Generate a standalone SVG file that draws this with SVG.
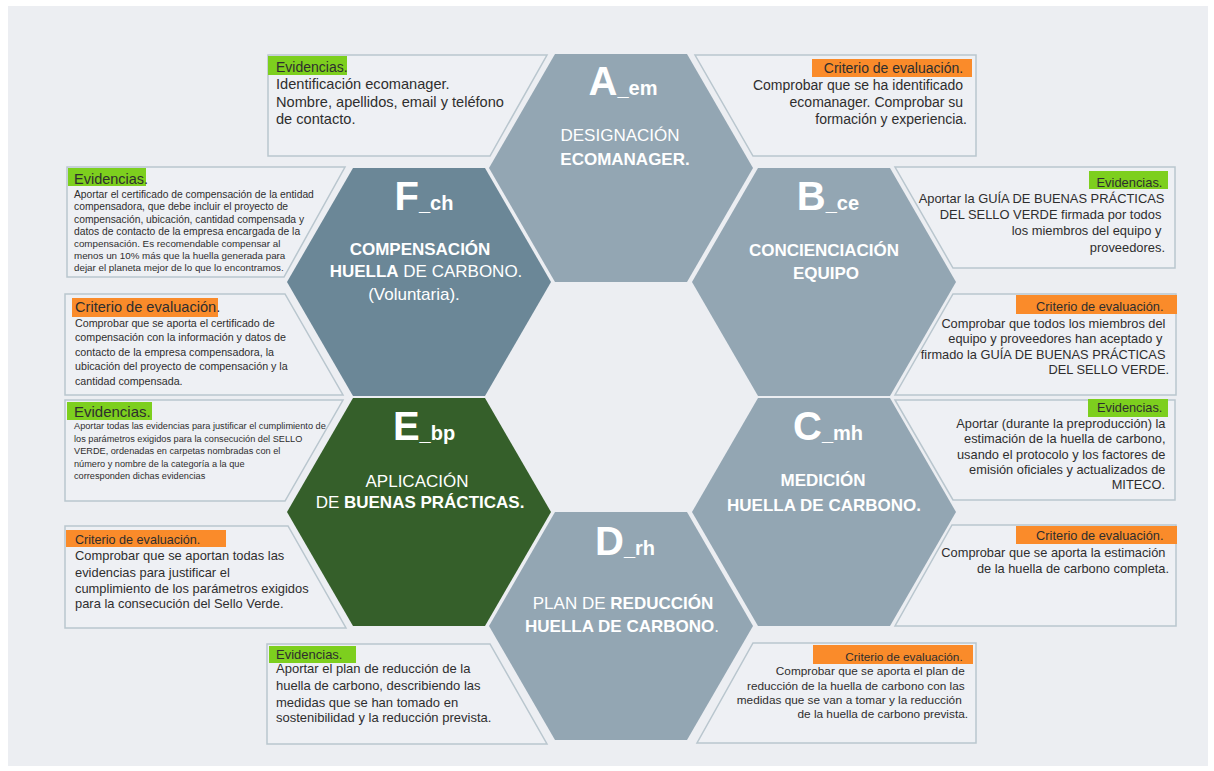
<svg xmlns="http://www.w3.org/2000/svg" width="1214" height="771" viewBox="0 0 1214 771">
  <defs>
    <style>
      .panel { fill: #eceef2; }
      .box { fill: #eef0f4; stroke: #b9c6ce; stroke-width: 1.5; }
      .hex-light { fill: #93a6b3; }
      .hex-dark { fill: #6b8797; }
      .hex-green { fill: #355f2a; }
      .hl-green { fill: #7dcf1e; }
      .hl-orange { fill: #fa8b2a; }
      text { font-family: "Liberation Sans", Arial, Helvetica, sans-serif; }
      .t { fill: #2e2e2e; }
      .r { text-anchor: end; }
      .h { fill: #ffffff; text-anchor: middle; font-size: 17px; }
      .b { font-weight: bold; }
      .big { font-size: 40px; font-weight: bold; }
      .sub { font-size: 20px; font-weight: bold; }
    </style>
    <!-- hexagon with points left and right, circumradius 132 -->
    <polygon id="hex" points="-132,0 -66,-114 66,-114 132,0 66,114 -66,114"/>
  </defs>

  <rect x="0" y="0" width="1214" height="771" fill="#ffffff"/>
  <rect class="panel" x="8" y="6" width="1200" height="760"/>

  <!-- connectors: none in this layout -->
  <g id="connectors"/>

  <!-- A: designación ecomanager -->
  <g id="node-A">
    <use href="#hex" class="hex-light" x="621" y="168"/>
    <text class="h" x="623" y="95"><tspan class="big">A</tspan><tspan class="sub">_em</tspan></text>
    <text class="h" x="620" y="141" font-size="19.5">DESIGNACIÓN</text>
    <text class="h b" x="625" y="165" font-size="18">ECOMANAGER.</text>
  </g>

  <!-- B: concienciación equipo -->
  <g id="node-B">
    <use href="#hex" class="hex-light" x="824" y="282"/>
    <text class="h" x="828" y="210"><tspan class="big">B</tspan><tspan class="sub">_ce</tspan></text>
    <text class="h b" x="824" y="256" font-size="19">CONCIENCIACIÓN</text>
    <text class="h b" x="826" y="279" font-size="19">EQUIPO</text>
  </g>

  <!-- C: medición huella de carbono -->
  <g id="node-C">
    <use href="#hex" class="hex-light" x="824" y="512"/>
    <text class="h" x="828" y="440"><tspan class="big">C</tspan><tspan class="sub">_mh</tspan></text>
    <text class="h b" x="823" y="486" font-size="19.5">MEDICIÓN</text>
    <text class="h b" x="824" y="511" font-size="19.5">HUELLA DE CARBONO.</text>
  </g>

  <!-- D: plan de reducción -->
  <g id="node-D">
    <use href="#hex" class="hex-light" x="621" y="626"/>
    <text class="h" x="625" y="555"><tspan class="big">D</tspan><tspan class="sub">_rh</tspan></text>
    <text class="h" x="623" y="609">PLAN DE <tspan class="b">REDUCCIÓN</tspan></text>
    <text class="h" x="622" y="632"><tspan class="b">HUELLA DE CARBONO</tspan>.</text>
  </g>

  <!-- E: aplicación de buenas prácticas -->
  <g id="node-E">
    <use href="#hex" class="hex-green" x="419" y="512"/>
    <text class="h" x="424" y="440"><tspan class="big">E</tspan><tspan class="sub">_bp</tspan></text>
    <text class="h" x="417" y="487">APLICACIÓN</text>
    <text class="h" x="420" y="508">DE <tspan class="b">BUENAS PRÁCTICAS.</tspan></text>
  </g>

  <!-- F: compensación huella de carbono -->
  <g id="node-F">
    <use href="#hex" class="hex-dark" x="419" y="282"/>
    <text class="h" x="424" y="210"><tspan class="big">F</tspan><tspan class="sub">_ch</tspan></text>
    <text class="h b" x="420" y="255" font-size="18">COMPENSACIÓN</text>
    <text class="h" x="426" y="277"><tspan class="b">HUELLA</tspan> DE CARBONO.</text>
    <text class="h" x="414" y="300" font-size="20">(Voluntaria).</text>
  </g>

  <!-- A evidencias -->
  <g id="box-A-evidencias">
    <polygon class="box" points="268,55 547,55 490,156 268,156"/>
    <rect class="hl-green" x="268" y="56" width="79" height="19"/>
    <text class="t" x="276" y="72" font-size="14">Evidencias.</text>
    <text class="t" font-size="14.6">
      <tspan x="276" y="89">Identificación ecomanager.</tspan>
      <tspan x="276" y="107">Nombre, apellidos, email y teléfono</tspan>
      <tspan x="276" y="124">de contacto.</tspan>
    </text>
  </g>

  <!-- A criterio -->
  <g id="box-A-criterio">
    <polygon class="box" points="695,55 976,55 976,156 753,156"/>
    <rect class="hl-orange" x="812" y="59" width="160" height="18"/>
    <text class="t r" font-size="14">
      <tspan x="967" y="73">Criterio de evaluación.</tspan>
      <tspan x="967" y="90">Comprobar que se ha identificado</tspan>
      <tspan x="967" y="107">ecomanager. Comprobar su</tspan>
      <tspan x="967" y="124">formación y experiencia.</tspan>
    </text>
  </g>

  <!-- F evidencias -->
  <g id="box-F-evidencias">
    <polygon class="box" points="67,167 345,167 284,277 67,277"/>
    <rect class="hl-green" x="68" y="168" width="78" height="18"/>
    <text class="t" x="74" y="184" font-size="14.5">Evidencias.</text>
    <text class="t" font-size="10.3">
      <tspan x="74" y="198">Aportar el certificado de compensación de la entidad</tspan>
      <tspan x="74" y="210">compensadora, que debe incluir el proyecto de</tspan>
      <tspan x="74" y="223">compensación, ubicación, cantidad compensada y</tspan>
      <tspan x="74" y="235">datos de contacto de la empresa encargada de la</tspan>
    </text>
    <text class="t" font-size="9.8">
      <tspan x="74" y="247">compensación. Es recomendable compensar al</tspan>
      <tspan x="74" y="259">menos un 10% más que la huella generada para</tspan>
      <tspan x="74" y="271">dejar el planeta mejor de lo que lo encontramos.</tspan>
    </text>
  </g>

  <!-- B evidencias -->
  <g id="box-B-evidencias">
    <polygon class="box" points="895,167 1175,167 1175,268 953,268"/>
    <rect class="hl-green" x="1089" y="171" width="79" height="18"/>
    <text class="t r" font-size="12.9">
      <tspan x="1166" y="187">Evidencias.</tspan>
      <tspan x="1168" y="203">Aportar la GUÍA DE BUENAS PRÁCTICAS</tspan>
      <tspan x="1165" y="219">DEL SELLO VERDE firmada por todos</tspan>
      <tspan x="1165" y="235">los miembros del equipo y</tspan>
      <tspan x="1165" y="252">proveedores.</tspan>
    </text>
  </g>

  <!-- F criterio -->
  <g id="box-F-criterio">
    <polygon class="box" points="65,294 285,294 343,395 65,395"/>
    <rect class="hl-orange" x="72" y="298" width="146" height="19"/>
    <text class="t" x="75" y="312" font-size="14.6">Criterio de evaluación.</text>
    <text class="t" font-size="10.7">
      <tspan x="75" y="327">Comprobar que se aporta el certificado de</tspan>
      <tspan x="75" y="341">compensación con la información y datos de</tspan>
      <tspan x="75" y="356">contacto de la empresa compensadora, la</tspan>
      <tspan x="75" y="370">ubicación del proyecto de compensación y la</tspan>
      <tspan x="75" y="385">cantidad compensada.</tspan>
    </text>
  </g>

  <!-- B criterio -->
  <g id="box-B-criterio">
    <polygon class="box" points="953,294 1176,294 1176,395 895,395"/>
    <rect class="hl-orange" x="1016" y="295" width="161" height="19"/>
    <text class="t r" font-size="12.8">
      <tspan x="1167" y="311">Criterio de evaluación.</tspan>
      <tspan x="1169" y="328">Comprobar que todos los miembros del</tspan>
      <tspan x="1166" y="343">equipo y proveedores han aceptado y</tspan>
      <tspan x="1169" y="359">firmado la GUÍA DE BUENAS PRÁCTICAS</tspan>
      <tspan x="1169" y="374">DEL SELLO VERDE.</tspan>
    </text>
  </g>

  <!-- E evidencias -->
  <g id="box-E-evidencias">
    <polygon class="box" points="65,400 343,400 285,501 65,501"/>
    <rect class="hl-green" x="67" y="402" width="85" height="18"/>
    <text class="t" x="74" y="417" font-size="15">Evidencias.</text>
    <text class="t" font-size="9.2">
      <tspan x="74" y="429">Aportar todas las evidencias para justificar el cumplimiento de</tspan>
      <tspan x="74" y="442">los parámetros exigidos para la consecución del SELLO</tspan>
      <tspan x="74" y="454">VERDE, ordenadas en carpetas nombradas con el</tspan>
      <tspan x="74" y="467">número y nombre de la categoría a la que</tspan>
      <tspan x="74" y="479">corresponden dichas evidencias</tspan>
    </text>
  </g>

  <!-- C evidencias -->
  <g id="box-C-evidencias">
    <polygon class="box" points="895,400 1175,400 1175,500 953,500"/>
    <rect class="hl-green" x="1088" y="399" width="80" height="18"/>
    <text class="t r" font-size="12.8">
      <tspan x="1166" y="412">Evidencias.</tspan>
      <tspan x="1169" y="428">Aportar (durante la preproducción) la</tspan>
      <tspan x="1169" y="443">estimación de la huella de carbono,</tspan>
      <tspan x="1169" y="459">usando el protocolo y los factores de</tspan>
      <tspan x="1169" y="474">emisión oficiales y actualizados de</tspan>
      <tspan x="1165" y="489">MITECO.</tspan>
    </text>
  </g>

  <!-- E criterio -->
  <g id="box-E-criterio">
    <polygon class="box" points="65,526 288,526 346,628 65,628"/>
    <rect class="hl-orange" x="66" y="530" width="160" height="17"/>
    <text class="t" x="75" y="544" font-size="12.6">Criterio de evaluación.</text>
    <text class="t" font-size="12.9">
      <tspan x="75" y="560">Comprobar que se aportan todas las</tspan>
      <tspan x="75" y="577">evidencias para justificar el</tspan>
      <tspan x="75" y="593">cumplimiento de los parámetros exigidos</tspan>
      <tspan x="75" y="608">para la consecución del Sello Verde.</tspan>
    </text>
  </g>

  <!-- C criterio -->
  <g id="box-C-criterio">
    <polygon class="box" points="952,525 1176,525 1176,626 895,626"/>
    <rect class="hl-orange" x="1016" y="526" width="161" height="18"/>
    <text class="t r" font-size="12.8">
      <tspan x="1167" y="540">Criterio de evaluación.</tspan>
      <tspan x="1169" y="557">Comprobar que se aporta la estimación</tspan>
      <tspan x="1169" y="573">de la huella de carbono completa.</tspan>
    </text>
  </g>

  <!-- D evidencias -->
  <g id="box-D-evidencias">
    <polygon class="box" points="267,644 490,644 547,744 267,744"/>
    <rect class="hl-green" x="269" y="646" width="87" height="17"/>
    <text class="t" font-size="13">
      <tspan x="276" y="659">Evidencias.</tspan>
      <tspan x="276" y="673">Aportar el plan de reducción de la</tspan>
      <tspan x="276" y="690">huella de carbono, describiendo las</tspan>
      <tspan x="276" y="707">medidas que se han tomado en</tspan>
      <tspan x="276" y="722">sostenibilidad y la reducción prevista.</tspan>
    </text>
  </g>

  <!-- D criterio -->
  <g id="box-D-criterio">
    <polygon class="box" points="753,643 976,643 976,743 697,743"/>
    <rect class="hl-orange" x="813" y="645" width="160" height="19"/>
    <text class="t r" font-size="11.8">
      <tspan x="966" y="661">Criterio de evaluación.</tspan>
      <tspan x="968" y="675">Comprobar que se aporta el plan de</tspan>
      <tspan x="968" y="690">reducción de la huella de carbono con las</tspan>
      <tspan x="965" y="704">medidas que se van a tomar y la reducción</tspan>
      <tspan x="968" y="718">de la huella de carbono prevista.</tspan>
    </text>
  </g>
</svg>
